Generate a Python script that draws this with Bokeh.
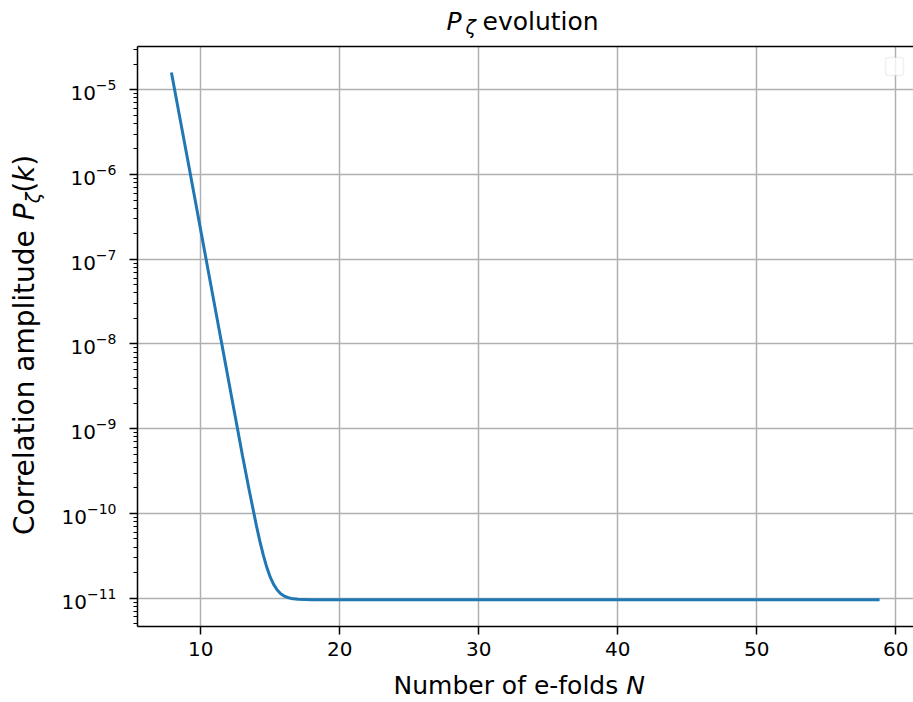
import math
from bokeh.plotting import figure
from bokeh.models import Range1d, Label, BoxAnnotation, LinearAxis, FixedTicker
from bokeh.layouts import column, row
from bokeh.embed import file_html
from bokeh.resources import INLINE

# ---- data ----
N_efolds = [7.89, 8.5, 9.0, 9.5, 10.0, 10.5, 11.0, 11.5, 12.0, 12.5, 13.0, 13.5,
            14.0, 14.25, 14.5, 14.75, 15.0, 15.25, 15.5, 15.75, 16.0, 16.25, 16.5,
            17.0, 18.0, 20.0, 30.0, 40.0, 50.0, 58.83]
P_zeta = [1.6e-5, 4.65e-6, 1.69e-6, 6.08e-7, 2.19e-7, 7.9e-8, 2.85e-8, 1.03e-8,
          3.71e-9, 1.34e-9, 4.82e-10, 1.83e-10, 7.22e-11, 4.71e-11, 3.22e-11,
          2.31e-11, 1.77e-11, 1.445e-11, 1.25e-11, 1.13e-11, 1.06e-11, 1.02e-11,
          9.93e-12, 9.69e-12, 9.57e-12, 9.55e-12, 9.55e-12, 9.55e-12, 9.55e-12,
          9.55e-12]
x_ticks = [10, 20, 30, 40, 50, 60]

FONT = "DejaVu Sans"


def lab(text, x, y, size, italic=False, angle=0.0):
    return Label(x=x, y=y, x_units="screen", y_units="screen", text=text,
                 text_font=FONT, text_font_size=f"{size}px",
                 text_font_style="italic" if italic else "normal",
                 text_color="black", text_align="left",
                 text_baseline="alphabetic", angle=angle)


def text_panel(w, h, labels):
    f = figure(width=w, height=h, output_backend="svg", toolbar_location=None,
               title=None, x_axis_type=None, y_axis_type=None,
               x_range=Range1d(0, 1), y_range=Range1d(0, 1),
               min_border=0, min_border_left=0, min_border_right=0,
               min_border_top=0, min_border_bottom=0)
    f.outline_line_color = None
    f.background_fill_color = "white"
    f.border_fill_color = "white"
    for l in labels:
        f.add_layout(l)
    return f

# ---- main plot ----
p = figure(width=863, height=626, output_backend="svg", toolbar_location=None,
           y_axis_type="log",
           x_range=Range1d(5.45, 61.27), y_range=Range1d(4.63e-12, 3.24e-5),
           min_border_left=87, min_border_right=0, min_border_top=6,
           min_border_bottom=40)
p.outline_line_color = None
p.background_fill_color = "white"
p.border_fill_color = "white"

p.line(N_efolds, P_zeta, line_color="#1f77b4", line_width=3)

for g in (p.xgrid, p.ygrid):
    g.grid_line_color = "#b0b0b0"
    g.grid_line_width = 1.5

p.xaxis.ticker = FixedTicker(ticks=x_ticks)
for ax in (p.xaxis, p.yaxis):
    ax.axis_line_color = "black"
    ax.axis_line_width = 1.5
    ax.major_tick_line_color = "black"
    ax.major_tick_line_width = 1.5
    ax.minor_tick_line_color = "black"
    ax.minor_tick_line_width = 1.2
    ax.major_tick_in = 0
    ax.minor_tick_in = 0
    ax.major_tick_out = 8
    ax.major_label_text_font = FONT
    ax.major_label_text_font_size = "20px"
    ax.major_label_text_color = "black"
p.xaxis.minor_tick_out = 0
p.yaxis.minor_tick_out = 4
p.xaxis.major_label_standoff = 7
p.yaxis.major_label_standoff = 13

top = LinearAxis(axis_line_color="black", axis_line_width=1.5,
                 major_tick_out=0, major_tick_in=0, minor_tick_out=0, minor_tick_in=0,
                 major_label_standoff=0,
                 major_label_text_font_size="0px", major_label_text_alpha=0)
p.add_layout(top, "above")

# empty legend frame (top right)
p.add_layout(BoxAnnotation(left=748, right=766, bottom=551, top=569,
                           left_units="screen", right_units="screen",
                           bottom_units="screen", top_units="screen",
                           fill_color="white", fill_alpha=0.8,
                           line_color="#cccccc", line_width=1.5,
                           border_radius=3))

# ---- text panels ----
title_fig = text_panel(913, 40, [
    lab("P", 446, 19.5, 25, italic=True),
    lab("ζ", 465, 14, 19, italic=True),
    lab("evolution", 482, 19.5, 25),
])

a = math.pi / 2
bx = 23.8
ylab_fig = text_panel(50, 626, [
    lab("Correlation amplitude", bx, 91.5, 28, angle=a),
    lab("P", bx, 406.3, 28, italic=True, angle=a),
    lab("ζ", 32.6, 423.2, 19.6, italic=True, angle=a),
    lab("(", bx, 433.7, 28, angle=a),
    lab("k", bx, 444.6, 28, italic=True, angle=a),
    lab(")", bx, 460.8, 28, angle=a),
])

xlab_fig = text_panel(913, 36, [
    lab("Number of e-folds", 393, 17.5, 25),
    lab("N", 625.7, 17.5, 25, italic=True),
])

layout = column(title_fig, row(ylab_fig, p, spacing=0), xlab_fig, spacing=0)

open("out.html", "w").write(file_html(layout, INLINE))
